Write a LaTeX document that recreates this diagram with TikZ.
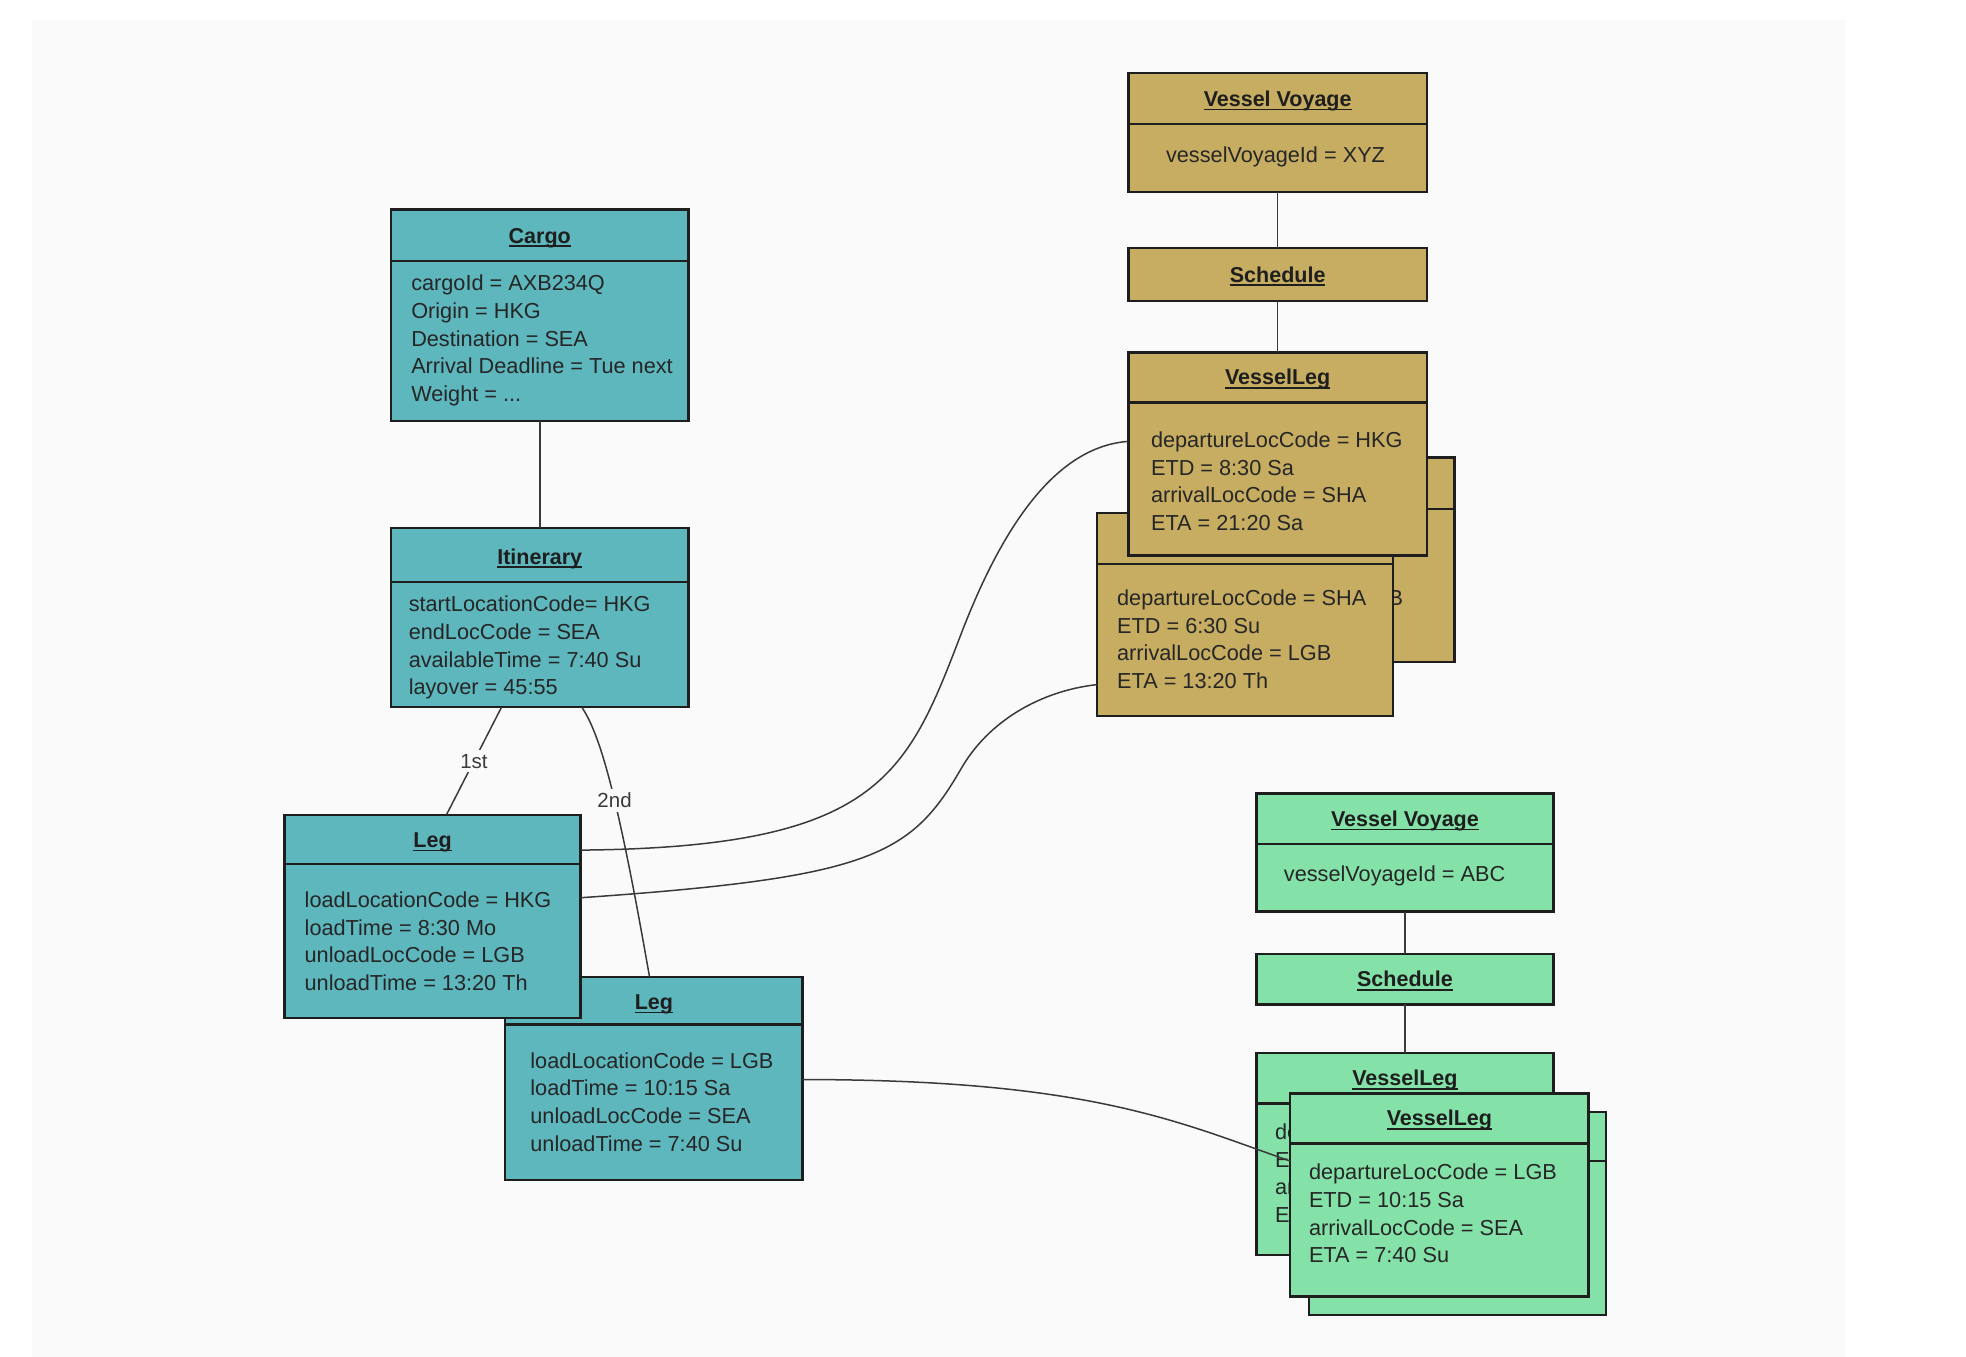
\documentclass[tikz,border=0pt]{standalone}
\usepackage{fontspec}
\setmainfont{Liberation Sans}
\usetikzlibrary{fit,calc}
\definecolor{tealbox}{HTML}{5DB7BD}
\definecolor{goldbox}{HTML}{C7AD62}
\definecolor{greenbox}{HTML}{84E2A8}
\definecolor{panel}{HTML}{FAFAFA}
\definecolor{edgec}{HTML}{1E1E1E}
\definecolor{txtc}{HTML}{262626}
\definecolor{connc}{HTML}{3A3A3A}
\newcommand\objtitle[4]{\node[ttl] (#1) at (#2,#3) {#4};
  \draw[uline] ([yshift=-3pt]#1.base west) -- ([yshift=-3pt]#1.base east);}
\begin{document}
\begin{tikzpicture}[x=1.2538pt,y=-1.2538pt,
  objbox/.style={draw=edgec, line width=2.4pt, inner sep=0pt, outer sep=0pt},
  tealobj/.style={objbox, fill=tealbox},
  goldobj/.style={objbox, fill=goldbox},
  greenobj/.style={objbox, fill=greenbox},
  divider/.style={draw=edgec, line width=2.4pt},
  ttl/.style={anchor=base, inner sep=0pt, outer sep=0pt, font=\fontsize{21.5}{26}\selectfont\bfseries, text=edgec},
  attr/.style={anchor=base west, inner sep=0pt, outer sep=0pt, font=\fontsize{21.7}{26}\selectfont, text=txtc},
  conn/.style={draw=connc, line width=1.5pt},
  lbl/.style={fill=panel, inner sep=4pt, font=\fontsize{20.5}{24}\selectfont, text=connc},
  uline/.style={line width=1.5pt, draw=edgec}]
\useasboundingbox (0,0) rectangle (1568,1082);
\fill[white] (0,0) rectangle (1568,1082);
\fill[panel] (25.5,16) rectangle (1471.5,1082);

% ---------- Cargo ----------
\node[tealobj, fit={(312,167) (549,336)}] (cargo) {};
\draw[divider] (312,208) -- (549,208);
\objtitle{cargo-t}{430.5}{194}{Cargo}
\node[attr] (cargo-1) at (328,232) {cargoId = AXB234Q};
\node[attr] (cargo-2) at (328,254) {Origin = HKG};
\node[attr] (cargo-3) at (328,276) {Destination = SEA};
\node[attr] (cargo-4) at (328,298) {Arrival Deadline = Tue next};
\node[attr] (cargo-5) at (328,320) {Weight = ...};

% ---------- Itinerary ----------
\node[tealobj, fit={(312,421) (549,564)}] (itin) {};
\draw[divider] (312,464) -- (549,464);
\objtitle{itin-t}{430.5}{450}{Itinerary}
\node[attr] (itin-1) at (326,488) {startLocationCode= HKG};
\node[attr] (itin-2) at (326,510) {endLocCode = SEA};
\node[attr] (itin-3) at (326,532) {availableTime = 7:40 Su};
\node[attr] (itin-4) at (326,554) {layover = 45:55};

% ---------- Leg 2 ----------
\node[tealobj, fit={(403,779) (640,941)}] (leg2) {};
\draw[divider] (403,817) -- (640,817);
\objtitle{leg2-t}{521.5}{805}{Leg}
\node[attr] (leg2-1) at (423,852) {loadLocationCode = LGB};
\node[attr] (leg2-2) at (423,874) {loadTime = 10:15 Sa};
\node[attr] (leg2-3) at (423,896) {unloadLocCode = SEA};
\node[attr] (leg2-4) at (423,918) {unloadTime = 7:40 Su};

% ---------- Leg 1 ----------
\node[tealobj, fit={(227,650) (463,812)}] (leg1) {};
\draw[divider] (227,689) -- (463,689);
\objtitle{leg1-t}{345}{676}{Leg}
\node[attr] (leg1-1) at (243,724) {loadLocationCode = HKG};
\node[attr] (leg1-2) at (243,746) {loadTime = 8:30 Mo};
\node[attr] (leg1-3) at (243,768) {unloadLocCode = LGB};
\node[attr] (leg1-4) at (243,790) {unloadTime = 13:20 Th};

% ---------- Gold: Vessel Voyage XYZ ----------
\node[goldobj, fit={(900,58) (1138,153)}] (vv1) {};
\draw[divider] (900,99) -- (1138,99);
\objtitle{vv1-t}{1019}{85}{Vessel Voyage}
\node[attr] (vv1-1) at (930,130) {vesselVoyageId = XYZ};

\node[goldobj, fit={(900,198) (1138,240)}] (sch1) {};
\objtitle{sch1-t}{1019}{225}{Schedule}

\node[goldobj, fit={(923,365) (1160,528)}] (vl1b) {};
\draw[divider] (923,406) -- (1160,406);
\node[attr, anchor=base east] (vl1b-3) at (1119,483) {B};

\node[goldobj, fit={(875,409) (1111,571)}] (vl1m) {};
\draw[divider] (875,450) -- (1111,450);
\node[attr] (vl1m-1) at (891,483) {departureLocCode = SHA};
\node[attr] (vl1m-2) at (891,505) {ETD = 6:30 Su};
\node[attr] (vl1m-3) at (891,527) {arrivalLocCode = LGB};
\node[attr] (vl1m-4) at (891,549) {ETA = 13:20 Th};

\node[goldobj, fit={(900,281) (1138,443)}] (vl1f) {};
\draw[divider] (900,321) -- (1138,321);
\objtitle{vl1f-t}{1019}{307}{VesselLeg}
\node[attr] (vl1f-1) at (918,357) {departureLocCode = HKG};
\node[attr] (vl1f-2) at (918,379) {ETD = 8:30 Sa};
\node[attr] (vl1f-3) at (918,401) {arrivalLocCode = SHA};
\node[attr] (vl1f-4) at (918,423) {ETA = 21:20 Sa};

% ---------- Green: Vessel Voyage ABC ----------
\node[greenobj, fit={(1002,633) (1239,727)}] (vv2) {};
\draw[divider] (1002,673) -- (1239,673);
\objtitle{vv2-t}{1120.5}{659}{Vessel Voyage}
\node[attr] (vv2-1) at (1024,703) {vesselVoyageId = ABC};

\node[greenobj, fit={(1002,761) (1239,801)}] (sch2) {};
\objtitle{sch2-t}{1120.5}{787}{Schedule}

\node[greenobj, fit={(1044,887) (1281,1049)}] (vl2br) {};
\draw[divider] (1044,926) -- (1281,926);

\node[greenobj, fit={(1002,840) (1239,1001)}] (vl2bl) {};
\draw[divider] (1002,880) -- (1239,880);
\objtitle{vl2bl-t}{1120.5}{866}{VesselLeg}
\node[attr] (vl2bl-1) at (1017,909) {de};
\node[attr] (vl2bl-2) at (1017,931) {ET};
\node[attr] (vl2bl-3) at (1017,953) {ar};
\node[attr] (vl2bl-4) at (1017,975) {ET};

\node[greenobj, fit={(1029,872) (1267,1034)}] (vl2f) {};
\draw[divider] (1029,912) -- (1267,912);
\objtitle{vl2f-t}{1148}{898}{VesselLeg}
\node[attr] (vl2f-1) at (1044,941) {departureLocCode = LGB};
\node[attr] (vl2f-2) at (1044,963) {ETD = 10:15 Sa};
\node[attr] (vl2f-3) at (1044,985) {arrivalLocCode = SEA};
\node[attr] (vl2f-4) at (1044,1007) {ETA = 7:40 Su};

% ---------- Connectors ----------
\draw[conn] (cargo.south) -- (itin.north);
\draw[conn] (vv1.south) -- (sch1.north);
\draw[conn] (sch1.south) -- (vl1f.north);
\draw[conn] (vv2.south) -- (sch2.north);
\draw[conn] (sch2.south) -- (vl2bl.north);

\draw[conn] ($(itin.south west)+(88,0)$) -- ($(leg1.north west)+(129,0)$)
  node[lbl, pos=0.5] (lab1) {1st};
\draw[conn] ($(itin.south west)+(152,0)$) .. controls (478,585) and (492,630) .. ($(leg2.north west)+(115,0)$)
  node[lbl, pos=0.57] (lab2) {2nd};

\draw[conn] ($(leg1.north east)+(0,28)$) .. controls (700,676) and (723,619) .. (766,507)
  .. controls (801.6,413.6) and (845,356) .. ($(vl1f.north west)+(0,71)$);
\draw[conn] ($(leg1.north east)+(0,66)$) .. controls (693,700) and (726,683) .. (766,614)
  .. controls (788,575) and (830,551) .. ($(vl1m.north west)+(0,137)$);
\draw[conn] ($(leg2.north east)+(0,82)$) .. controls (870,861) and (940,895) .. ($(vl2f.north west)+(0,54)$);
\end{tikzpicture}
\end{document}
